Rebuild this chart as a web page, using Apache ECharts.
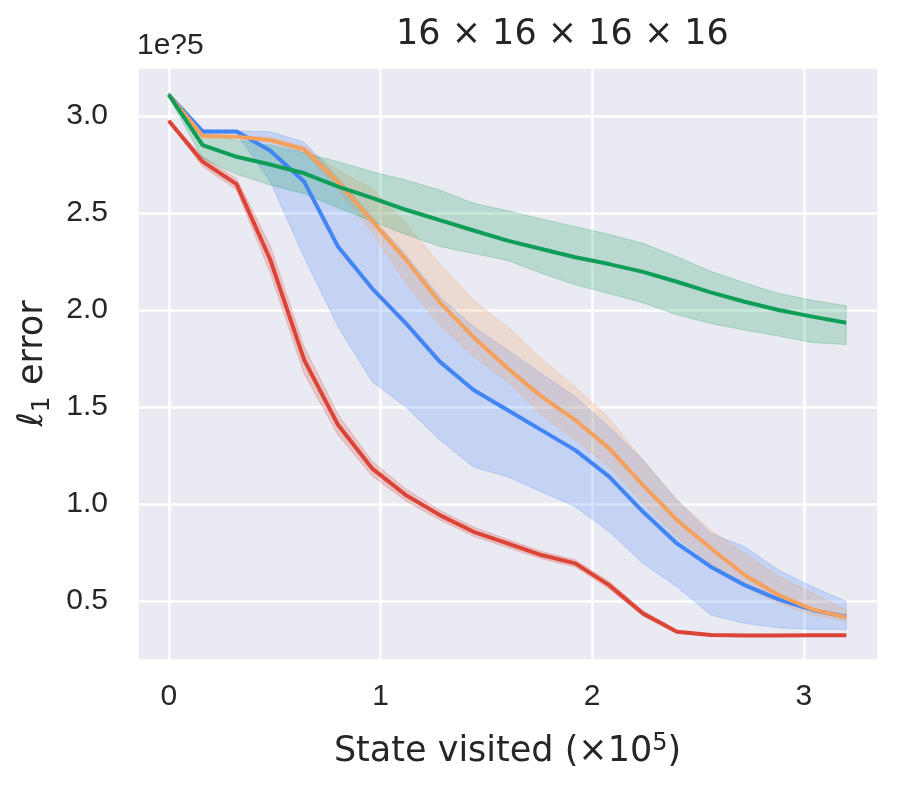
<!DOCTYPE html>
<html lang="en">
<head>
  <meta charset="UTF-8">
  <title>16x16x16x16</title>
  <script src="https://cdn.jsdelivr.net/npm/echarts@6/dist/echarts.min.js"></script>
  <style>
    html, body { margin: 0; padding: 0; background: #fff; }
    #main { width: 901px; height: 789px; }
  </style>
</head>
<body>
<div id="main"></div>
<script>
  // states visited, x 1e5
  var xs = [0, 0.16, 0.32, 0.48, 0.64, 0.8, 0.96, 1.12, 1.28, 1.44, 1.6,
            1.76, 1.92, 2.08, 2.24, 2.4, 2.56, 2.72, 2.88, 3.04, 3.2];

  // l1 error, x 1e5
  var blueMean = [3.11, 2.921, 2.921, 2.821, 2.661, 2.326, 2.112, 1.931, 1.734, 1.588, 1.485,
                  1.381, 1.278, 1.141, 0.96, 0.797, 0.677, 0.582, 0.509, 0.454, 0.419];
  var blueLow  = [3.10, 2.91, 2.91, 2.661, 2.27, 1.914, 1.63, 1.5, 1.33, 1.19, 1.141,
                  1.063, 0.986, 0.857, 0.694, 0.574, 0.428, 0.385, 0.362, 0.354, 0.354];
  var blueHigh = [3.12, 2.93, 2.924, 2.919, 2.865, 2.68, 2.48, 2.284, 2.069, 1.914, 1.794,
                  1.673, 1.553, 1.398, 1.227, 1.021, 0.849, 0.78, 0.66, 0.574, 0.497];

  var orangeMean = [3.11, 2.897, 2.893, 2.876, 2.828, 2.66, 2.46, 2.26, 2.04, 1.86, 1.70,
                    1.555, 1.433, 1.287, 1.098, 0.918, 0.772, 0.634, 0.531, 0.457, 0.416];
  var orangeLow  = [3.10, 2.89, 2.885, 2.865, 2.81, 2.62, 2.40, 2.14, 1.92, 1.76, 1.63,
                    1.46, 1.33, 1.192, 1.004, 0.832, 0.694, 0.574, 0.488, 0.428, 0.398];
  var orangeHigh = [3.12, 2.905, 2.90, 2.89, 2.845, 2.72, 2.627, 2.447, 2.24, 2.052, 1.914,
                    1.75, 1.605, 1.442, 1.227, 1.021, 0.866, 0.746, 0.626, 0.54, 0.454];

  var redMean = [2.976, 2.765, 2.649, 2.258, 1.742, 1.407, 1.184, 1.046, 0.943, 0.857, 0.797,
                 0.737, 0.694, 0.582, 0.436, 0.342, 0.325, 0.322, 0.322, 0.323, 0.323];
  var redLow  = [2.972, 2.74, 2.62, 2.19, 1.67, 1.355, 1.145, 1.016, 0.918, 0.834, 0.776,
                 0.718, 0.676, 0.563, 0.422, 0.334, 0.32, 0.318, 0.318, 0.319, 0.319];
  var redHigh = [2.98, 2.79, 2.678, 2.33, 1.81, 1.46, 1.222, 1.078, 0.968, 0.881, 0.818,
                 0.756, 0.712, 0.601, 0.45, 0.35, 0.33, 0.326, 0.326, 0.327, 0.327];

  var greenMean = [3.11, 2.85, 2.79, 2.75, 2.705, 2.636, 2.578, 2.517, 2.464, 2.41, 2.358,
                   2.315, 2.272, 2.237, 2.197, 2.146, 2.091, 2.043, 2.0, 1.966, 1.935];
  var greenLow  = [3.10, 2.78, 2.70, 2.645, 2.60, 2.526, 2.458, 2.39, 2.328, 2.292, 2.256,
                   2.19, 2.13, 2.085, 2.038, 1.976, 1.931, 1.897, 1.866, 1.833, 1.822];
  var greenHigh = [3.12, 2.91, 2.875, 2.85, 2.81, 2.765, 2.713, 2.67, 2.619, 2.55, 2.512,
                   2.47, 2.43, 2.39, 2.344, 2.275, 2.2, 2.14, 2.086, 2.05, 2.022];

  var xTicks = [0, 1, 2, 3];
  var yTicks = [0.5, 1.0, 1.5, 2.0, 2.5, 3.0];

  var BLUE = [66, 133, 244], ORANGE = [244, 161, 93], RED = [219, 68, 55], GREEN = [15, 157, 88];

  function rgba(c, a) { return 'rgba(' + c[0] + ',' + c[1] + ',' + c[2] + ',' + a + ')'; }

  function pairs(ys) {
    return xs.map(function (x, i) { return [x, ys[i]]; });
  }

  // shaded band drawn as one polygon: upper edge forward, lower edge back
  function band(color, low, high) {
    return {
      type: 'custom', coordinateSystem: 'cartesian2d', silent: true,
      data: [[xs[0], low[0]]],
      renderItem: function (params, api) {
        var pts = [];
        for (var i = 0; i < xs.length; i++) pts.push(api.coord([xs[i], high[i]]));
        for (var j = xs.length - 1; j >= 0; j--) pts.push(api.coord([xs[j], low[j]]));
        return {
          type: 'polygon', shape: { points: pts },
          style: { fill: rgba(color, 0.22), stroke: rgba(color, 0.25), lineWidth: 1 }
        };
      }
    };
  }

  function line(color, ys) {
    return {
      type: 'line', data: pairs(ys), symbol: 'none',
      lineStyle: { color: rgba(color, 1), width: 4 }
    };
  }

  function tickFmt(list, digits) {
    return function (v) {
      for (var i = 0; i < list.length; i++) {
        if (Math.abs(v - list[i]) < 1e-6) return v.toFixed(digits);
      }
      return '';
    };
  }

  var chart = echarts.init(document.getElementById('main'), null, { renderer: 'canvas' });

  var nameFont = { fontFamily: 'DejaVu Sans', fontSize: 35, color: '#262626' };

  var option = {
    animation: false,
    backgroundColor: '#ffffff',
    title: {
      text: '16 × 16 × 16 × 16',
      left: 391, top: 12,
      textStyle: { fontFamily: 'DejaVu Sans', fontSize: 35, fontWeight: 'normal', color: '#262626' }
    },
    graphic: [{
      type: 'text', left: 137, top: 31,
      style: { text: '1e?5', font: '30px "Liberation Sans"', fill: '#262626' }
    }],
    grid: {
      left: 137, right: 23, top: 67, bottom: 129,
      show: true, backgroundColor: '#EAEAF2', borderWidth: 0
    },
    xAxis: {
      type: 'value', min: -0.15, max: 3.35, splitNumber: 4,
      name: 'State visited (×10{sup|5})', nameLocation: 'middle', nameGap: 72,
      nameTextStyle: Object.assign({}, nameFont, {
        rich: { sup: { fontFamily: 'DejaVu Sans', fontSize: 24, color: '#262626', verticalAlign: 'top', lineHeight: 40 } }
      }),
      axisLine: { show: false }, axisTick: { show: false },
      axisLabel: {
        margin: 22, fontFamily: 'Liberation Sans', fontSize: 30, color: '#262626',
        showMinLabel: false, showMaxLabel: false, formatter: tickFmt(xTicks, 0)
      },
      splitLine: { show: true, lineStyle: { color: '#ffffff', width: 2.5 } }
    },
    yAxis: {
      type: 'value', min: 0.196, max: 3.253, splitNumber: 6,
      name: '{l|ℓ}{sub|1} error', nameLocation: 'middle', nameGap: 81, nameRotate: 90,
      nameTextStyle: Object.assign({}, nameFont, {
        rich: {
          l: { fontFamily: 'DejaVu Sans', fontSize: 35, fontStyle: 'italic', color: '#262626' },
          sub: { fontFamily: 'DejaVu Sans', fontSize: 25, color: '#262626', verticalAlign: 'bottom', lineHeight: 44 }
        }
      }),
      axisLine: { show: false }, axisTick: { show: false },
      axisLabel: {
        margin: 29, fontFamily: 'Liberation Sans', fontSize: 30, color: '#262626',
        showMinLabel: false, showMaxLabel: false, formatter: tickFmt(yTicks, 1)
      },
      splitLine: { show: true, lineStyle: { color: '#ffffff', width: 2.5 } }
    },
    series: [
      band(BLUE, blueLow, blueHigh),
      band(ORANGE, orangeLow, orangeHigh),
      band(RED, redLow, redHigh),
      band(GREEN, greenLow, greenHigh),
      line(BLUE, blueMean),
      line(ORANGE, orangeMean),
      line(RED, redMean),
      line(GREEN, greenMean)
    ]
  };

  chart.setOption(option);
</script>
</body>
</html>
